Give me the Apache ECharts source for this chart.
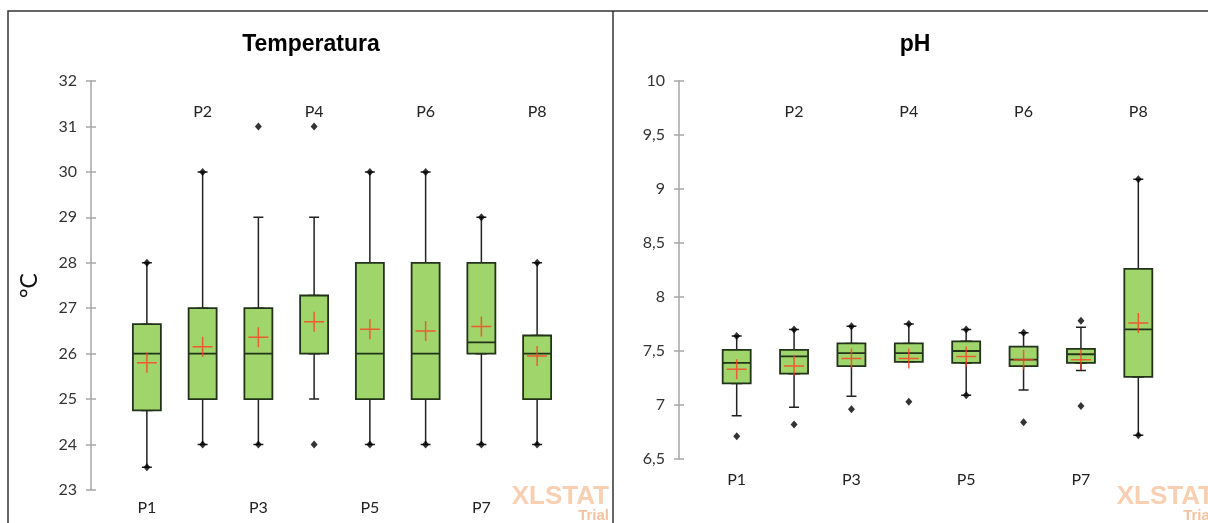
<!DOCTYPE html>
<html>
<head>
<meta charset="utf-8">
<script src="https://cdn.jsdelivr.net/npm/echarts@6/dist/echarts.min.js"></script>
<style>
  html, body { margin: 0; padding: 0; background: #fff; }
  #main { width: 1208px; height: 523px; }
</style>
</head>
<body>
<div id="main"></div>
<script>
// categories
var cats = ['P1', 'P2', 'P3', 'P4', 'P5', 'P6', 'P7', 'P8'];

// Temperatura (°C)
var tempLow  = [23.5, 24, 24, 25, 24, 24, 24, 24];
var tempQ1   = [24.75, 25, 25, 26, 25, 25, 26, 25];
var tempMed  = [26, 26, 26, 26, 26, 26, 26.25, 26];
var tempQ3   = [26.65, 27, 27, 27.28, 28, 28, 28, 26.4];
var tempHigh = [28, 30, 29, 29, 30, 30, 29, 28];
var tempMean = [25.8, 26.15, 26.36, 26.7, 26.54, 26.5, 26.6, 25.95];
var tempMin  = [23.5, 24, 24, 24, 24, 24, 24, 24];
var tempMax  = [28, 30, 31, 31, 30, 30, 29, 28];

// pH
var phLow  = [6.90, 6.98, 7.08, 7.40, 7.09, 7.14, 7.32, 6.72];
var phQ1   = [7.20, 7.29, 7.36, 7.40, 7.39, 7.36, 7.39, 7.26];
var phMed  = [7.39, 7.45, 7.48, 7.48, 7.50, 7.42, 7.47, 7.70];
var phQ3   = [7.51, 7.51, 7.57, 7.57, 7.59, 7.54, 7.52, 8.26];
var phHigh = [7.64, 7.70, 7.73, 7.75, 7.70, 7.67, 7.72, 9.09];
var phMean = [7.33, 7.36, 7.43, 7.43, 7.45, 7.42, 7.42, 7.76];
var phMin  = [6.71, 6.82, 6.96, 7.03, 7.09, 6.84, 6.99, 6.72];
var phMax  = [7.64, 7.70, 7.73, 7.75, 7.70, 7.67, 7.78, 9.09];

var labelFont = 'Lato';
var plusPath = 'path://M0,10H20M10,0V20';

function xAxes(grid, bottomMargin) {
  var base = {
    type: 'category', data: cats, gridIndex: grid,
    axisLine: { show: false }, axisTick: { show: false }, splitLine: { show: false }
  };
  return [
    Object.assign({}, base, {
      position: 'bottom',
      axisLabel: { interval: function (i) { return i % 2 === 0; }, margin: bottomMargin,
        fontSize: 16, fontFamily: labelFont, color: '#222' }
    }),
    Object.assign({}, base, {
      position: 'top',
      axisLabel: { inside: true, interval: function (i) { return i % 2 === 1; }, margin: 23,
        fontSize: 16, fontFamily: labelFont, color: '#222' }
    })
  ];
}

function yAxes(grid, min, max, step, offset, width, fmt, name) {
  var lineStyle = { color: '#a6a6a6', width: 1.5 };
  return [
    {
      type: 'value', gridIndex: grid, min: min, max: max, interval: step,
      position: 'left', offset: offset,
      name: name, nameLocation: 'middle', nameGap: 50,
      nameTextStyle: { fontSize: 23, fontFamily: labelFont, color: '#111' },
      axisLine: { show: true, lineStyle: lineStyle },
      axisTick: { show: true, length: 5, lineStyle: lineStyle },
      splitLine: { show: false },
      axisLabel: { margin: 14, fontSize: 16, fontFamily: labelFont, color: '#333', formatter: fmt }
    },
    {
      // inner half of the crossing ticks
      type: 'value', gridIndex: grid, min: min, max: max, interval: step,
      position: 'right', offset: -(width + offset),
      axisLine: { show: false },
      axisTick: { show: true, length: 5, lineStyle: lineStyle },
      splitLine: { show: false },
      axisLabel: { show: false }
    }
  ];
}

function seriesFor(xi, yi, low, q1, med, q3, high, mean, mn, mx) {
  var whisk = cats.map(function (c, i) { return [low[i], q1[i], med[i], q3[i], high[i]]; });
  var boxes = cats.map(function (c, i) { return [q1[i], q1[i], med[i], q3[i], q3[i]]; });
  var ends = [];
  cats.forEach(function (c, i) { ends.push([i, mn[i]]); ends.push([i, mx[i]]); });
  return [
    {
      type: 'boxplot', xAxisIndex: xi, yAxisIndex: yi, data: whisk, boxWidth: [10, 10], z: 2,
      itemStyle: { color: '#fff', borderColor: '#222', borderWidth: 1.5 },
      emphasis: { disabled: true }, silent: true
    },
    {
      type: 'boxplot', xAxisIndex: xi + 1, yAxisIndex: yi, data: boxes, boxWidth: [28, 28], z: 3,
      itemStyle: { color: '#a0d56c', borderColor: '#22331a', borderWidth: 1.8 },
      emphasis: { disabled: true }, silent: true
    },
    {
      type: 'scatter', xAxisIndex: xi, yAxisIndex: yi, data: ends, z: 4,
      symbol: 'diamond', symbolSize: [7, 8], itemStyle: { color: '#000' }, silent: true
    },
    {
      type: 'scatter', xAxisIndex: xi, yAxisIndex: yi, z: 5,
      data: cats.map(function (c, i) { return [i, mean[i]]; }),
      symbol: plusPath, symbolSize: 20,
      itemStyle: { color: 'transparent', borderColor: '#ff3d1f', borderWidth: 1.5 }, silent: true
    }
  ];
}

function watermark(right) {
  return [
    { type: 'text', x: right, y: 497, z: 10, silent: true,
      style: { text: 'XLSTAT', fontSize: 26, fontWeight: 'bold', fontFamily: 'Liberation Sans',
        fill: '#f8cfb1', align: 'right', verticalAlign: 'middle' } },
    { type: 'text', x: right, y: 516, z: 10, silent: true,
      style: { text: 'Trial', fontSize: 15, fontWeight: 'bold', fontFamily: 'Liberation Sans',
        fill: '#f5c29f', align: 'right', verticalAlign: 'middle' } }
  ];
}

var chart = echarts.init(document.getElementById('main'), null, { renderer: 'canvas' });

chart.setOption({
  animation: false,
  backgroundColor: '#fff',
  grid: [
    { left: 119, top: 81, width: 446, height: 409 },
    { left: 708, top: 81, width: 459, height: 378 }
  ],
  xAxis: xAxes(0, 10).concat(xAxes(1, 13)),
  yAxis: yAxes(0, 23, 32, 1, 28, 446, null, '°C')
    .concat(yAxes(1, 6.5, 10, 0.5, 29, 459, function (v) { return String(v).replace('.', ','); }, '')),
  series: seriesFor(0, 0, tempLow, tempQ1, tempMed, tempQ3, tempHigh, tempMean, tempMin, tempMax)
    .concat(seriesFor(2, 2, phLow, phQ1, phMed, phQ3, phHigh, phMean, phMin, phMax)),
  graphic: [
    { type: 'polyline', silent: true, shape: { points: [[8, 523], [8, 11], [1208, 11]] },
      style: { stroke: '#333', lineWidth: 1.5, fill: null } },
    { type: 'line', silent: true, shape: { x1: 613, y1: 11, x2: 613, y2: 523 },
      style: { stroke: '#333', lineWidth: 1.5 } },
    { type: 'text', x: 311, y: 45, silent: true,
      style: { text: 'Temperatura', fontSize: 23, fontWeight: 'bold', fontFamily: 'Liberation Sans',
        fill: '#000', align: 'center', verticalAlign: 'middle' } },
    { type: 'text', x: 915, y: 45, silent: true,
      style: { text: 'pH', fontSize: 23, fontWeight: 'bold', fontFamily: 'Liberation Sans',
        fill: '#000', align: 'center', verticalAlign: 'middle' } }
  ].concat(watermark(609)).concat(watermark(1214))
});
</script>
</body>
</html>
